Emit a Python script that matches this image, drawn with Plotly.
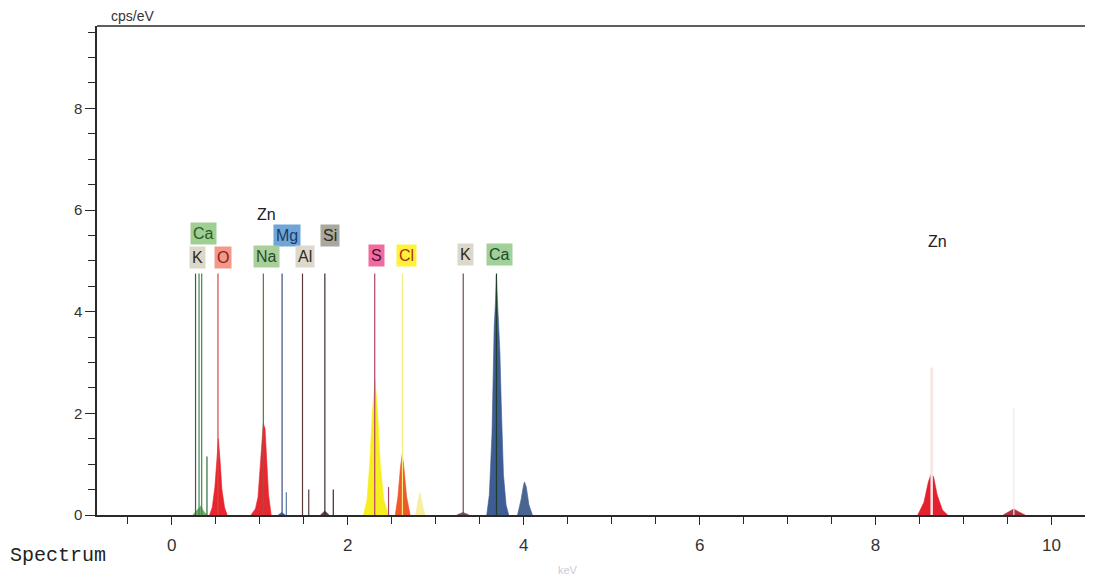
import plotly.graph_objects as go

# ---------------- data ----------------
# filled spectrum peaks: energy (keV) and intensity (cps/eV)
o_kev = [0.43, 0.46, 0.49, 0.51, 0.53, 0.55, 0.57, 0.60, 0.63]
o_cps = [0.0, 0.15, 0.55, 1.0, 1.5, 1.05, 0.5, 0.15, 0.0]

kca_l_kev = [0.24, 0.27, 0.30, 0.33, 0.36, 0.40]
kca_l_cps = [0.0, 0.06, 0.14, 0.18, 0.08, 0.0]

znl_kev = [0.90, 0.95, 0.98, 1.00, 1.02, 1.04, 1.06, 1.08, 1.10, 1.13]
znl_cps = [0.0, 0.12, 0.35, 0.9, 1.4, 1.8, 1.7, 1.1, 0.4, 0.0]

mg_kev = [1.21, 1.25, 1.29]
mg_cps = [0.0, 0.05, 0.0]

si_kev = [1.69, 1.74, 1.79]
si_cps = [0.0, 0.08, 0.0]

s_kev = [2.18, 2.22, 2.25, 2.28, 2.31, 2.34, 2.37, 2.41, 2.46]
s_cps = [0.0, 0.3, 1.0, 2.0, 2.65, 2.0, 1.0, 0.3, 0.0]

cl_kev = [2.54, 2.57, 2.60, 2.62, 2.64, 2.67, 2.71]
cl_cps = [0.0, 0.35, 0.95, 1.2, 0.9, 0.35, 0.0]

clb_kev = [2.77, 2.80, 2.82, 2.85, 2.88]
clb_cps = [0.0, 0.3, 0.45, 0.2, 0.0]

k_kev = [3.24, 3.31, 3.38]
k_cps = [0.0, 0.05, 0.0]

ca_kev = [3.58, 3.61, 3.64, 3.655, 3.665, 3.68, 3.69, 3.70, 3.715, 3.73, 3.745, 3.77, 3.80, 3.83]
ca_cps = [0.0, 0.4, 1.6, 2.8, 3.7, 4.2, 4.7, 4.3, 3.8, 3.2, 2.2, 0.8, 0.2, 0.0]

cab_kev = [3.93, 3.97, 4.00, 4.01, 4.03, 4.06, 4.10]
cab_cps = [0.0, 0.3, 0.6, 0.65, 0.55, 0.2, 0.0]

zn_kev = [8.48, 8.55, 8.60, 8.63, 8.64, 8.66, 8.70, 8.76, 8.82]
zn_cps = [0.0, 0.25, 0.65, 0.8, 0.8, 0.75, 0.4, 0.1, 0.0]

znb_kev = [9.45, 9.52, 9.57, 9.62, 9.70]
znb_cps = [0.0, 0.08, 0.12, 0.07, 0.0]

# element marker lines
marker_element = ["K", "Ca", "Ca", "Ca", "O", "Na", "Mg", "Mg", "Al", "Al",
                  "Si", "Si", "S", "S", "Cl", "K", "Ca", "Zn", "Zn"]
marker_kev = [0.27, 0.31, 0.34, 0.40, 0.525, 1.041, 1.254, 1.302, 1.486, 1.557,
              1.740, 1.836, 2.307, 2.464, 2.622, 3.313, 3.691, 8.638, 9.572]
marker_cps = [4.75, 4.75, 4.75, 1.15, 4.75, 4.75, 4.75, 0.45, 4.75, 0.5,
              4.75, 0.5, 4.75, 0.55, 4.75, 4.75, 4.75, 2.9, 2.1]

# element labels
label_text = ["Ca", "K", "O", "Zn", "Mg", "Si", "Na", "Al", "S", "Cl", "K", "Ca", "Zn"]
label_kev = [0.36, 0.29, 0.58, 1.08, 1.31, 1.80, 1.08, 1.52, 2.33, 2.67, 3.34, 3.72, 8.70]
label_cps = [5.54, 5.06, 5.06, 5.92, 5.49, 5.49, 5.08, 5.08, 5.10, 5.10, 5.12, 5.12, 5.38]

x_title = "keV"
y_title = "cps/eV"
spectrum_name = "Spectrum"

# ---------------- styles ----------------
peak_styles = [
    (kca_l_kev, kca_l_cps, "#6fa86a"),
    (o_kev, o_cps, "#e8242c"),
    (znl_kev, znl_cps, "#e62830"),
    (mg_kev, mg_cps, "#4a5a8a"),
    (si_kev, si_cps, "#5a4040"),
    (s_kev, s_cps, "#f6ee1e"),
    (cl_kev, cl_cps, "#f0582a"),
    (clb_kev, clb_cps, "#f8eea0"),
    (k_kev, k_cps, "#6a5048"),
    (ca_kev, ca_cps, "#3d5d94"),
    (cab_kev, cab_cps, "#4a6690"),
    (zn_kev, zn_cps, "#e4202e"),
    (znb_kev, znb_cps, "#b03040"),
]

marker_colors = ["#555050", "#3f8a4a", "#3f8a4a", "#2f6a3a", "#d8464a", "#4f7a45",
                 "#3b4f7a", "#5a78a8", "#5a3a3a", "#5a3a3a", "#3a2a2a", "#3a2a2a",
                 "#b0406a", "#b0406a", "#f4ee80", "#6a5048", "#1f3f2a",
                 "#f8e4e4", "#f2e6e6"]
marker_widths = [1.2] * 17 + [2.5, 1.2]

label_bg = ["#9fcf92", "#dcd8c8", "#f3998a", "rgba(255,255,255,0)", "#6fa6d6",
            "#a8a89e", "#a9cf9a", "#dcd8cc", "#f06ca0", "#fff23a",
            "#dcd8cc", "#a2d09a", "rgba(255,255,255,0)"]
label_fg = ["#2a5a2a", "#302820", "#8a2020", "#202020", "#1e3a6a",
            "#302820", "#2a4a2a", "#302820", "#4a1030", "#b03010",
            "#302820", "#1f4a2a", "#202020"]

# ---------------- figure ----------------
fig = go.Figure()

for xs, ys, col in peak_styles:
    fig.add_trace(go.Scatter(x=xs, y=ys, mode="lines", fill="toself",
                             fillcolor=col, line=dict(color=col, width=0.6),
                             hoverinfo="skip", showlegend=False))

for e, h, c, w in zip(marker_kev, marker_cps, marker_colors, marker_widths):
    fig.add_trace(go.Scatter(x=[e, e], y=[0, h], mode="lines",
                             line=dict(color=c, width=w),
                             hoverinfo="skip", showlegend=False))

for t, x, y, bg, fg in zip(label_text, label_kev, label_cps, label_bg, label_fg):
    fig.add_annotation(x=x, y=y, text=t, showarrow=False,
                       font=dict(family="Liberation Sans, Arial", size=16, color=fg),
                       bgcolor=bg, borderpad=2)

axis_col = "#2a2a2a"
fig.update_xaxes(range=[-0.85, 10.54], tick0=0, dtick=2,
                 ticks="outside", ticklen=8, tickwidth=1.2, tickcolor=axis_col,
                 minor=dict(dtick=0.5, tick0=0, ticks="outside", ticklen=7,
                            tickwidth=1.2, tickcolor=axis_col),
                 showline=True, linecolor=axis_col, linewidth=1.5,
                 showgrid=False, zeroline=False, ticklabelstandoff=6,
                 tickfont=dict(family="Liberation Sans, Arial", size=17, color="#333333"))
fig.update_yaxes(range=[0, 9.62], tick0=0, dtick=2,
                 ticks="outside", ticklen=10, tickwidth=1.2, tickcolor=axis_col,
                 minor=dict(dtick=0.5, tick0=0, ticks="outside", ticklen=7,
                            tickwidth=1.2, tickcolor=axis_col),
                 showline=True, linecolor=axis_col, linewidth=1.5,
                 showgrid=False, zeroline=False,
                 tickfont=dict(family="Liberation Sans, Arial", size=15, color="#333333"))

# top frame line
fig.add_shape(type="line", xref="paper", yref="paper", x0=0, x1=1, y0=1, y1=1,
              line=dict(color=axis_col, width=1.3))

fig.add_annotation(xref="paper", yref="paper", x=0.012, y=1.0, xanchor="left",
                   yanchor="bottom", text=y_title, showarrow=False,
                   font=dict(family="Liberation Sans, Arial", size=14, color="#333333"))
fig.add_annotation(xref="paper", yref="paper", x=-0.089, y=-0.082, xanchor="left",
                   yanchor="middle", text=spectrum_name, showarrow=False,
                   font=dict(family="Liberation Mono, Courier New", size=20, color="#222222"))
fig.add_annotation(xref="paper", yref="paper", x=0.47, y=-0.112, xanchor="center",
                   yanchor="middle", text=x_title, showarrow=False,
                   font=dict(family="Liberation Sans, Arial", size=11, color="#c8ccd4"))

fig.update_layout(width=1093, height=582,
                  margin=dict(l=89, r=2, t=18, b=75),
                  plot_bgcolor="white", paper_bgcolor="white")

fig.write_html("out.html")
